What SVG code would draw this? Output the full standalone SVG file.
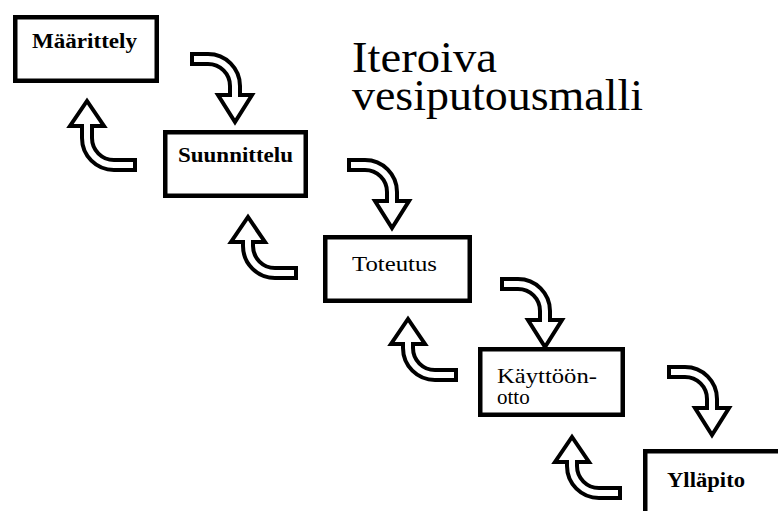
<svg xmlns="http://www.w3.org/2000/svg" xmlns:xlink="http://www.w3.org/1999/xlink" width="778" height="511" viewBox="0 0 778 511">
<style>
.box{fill:#fff;stroke:#000;stroke-width:4.5}
.lbl{font-family:"Liberation Serif","Times New Roman",serif;font-size:21px;fill:#000}
.b{font-weight:bold}
.arr{fill:#fff;stroke:#000;stroke-width:4;stroke-linejoin:miter}
.title{font-family:"Liberation Serif","Times New Roman",serif;font-size:45px;fill:#000}
</style>
<defs>
<path id="down" class="arr" d="M0,0 H16 A32,32 0 0 1 48,32 V41 H60 L43,68 L26,41 H38 V32 A22,22 0 0 0 16,10 H0 Z"/>
<path id="up" class="arr" d="M0,0 H-21 A32,32 0 0 1 -53,-32 V-36 H-65 L-48,-61 L-31,-36 H-43 V-32 A22,22 0 0 0 -21,-10 H0 Z"/>
<path id="upTall" class="arr" d="M0,0 H-21 A32,32 0 0 1 -53,-32 V-44 H-65 L-48,-69 L-31,-44 H-43 V-32 A22,22 0 0 0 -21,-10 H0 Z"/>
</defs>
<rect width="778" height="511" fill="#fff"/>
<g id="title">
<text class="title" x="352" y="72" textLength="145" lengthAdjust="spacingAndGlyphs">Iteroiva</text>
<text class="title" x="352" y="110" textLength="291" lengthAdjust="spacingAndGlyphs">vesiputousmalli</text>
</g>
<g id="connectors">
<use xlink:href="#down" x="192" y="54"/>
<use xlink:href="#down" x="349" y="160"/>
<use xlink:href="#down" x="502" y="279"/>
<use xlink:href="#down" x="669" y="367"/>
<use xlink:href="#upTall" x="135" y="170"/>
<use xlink:href="#up" x="296" y="278"/>
<use xlink:href="#up" x="456" y="380"/>
<use xlink:href="#up" x="620" y="498"/>
</g>
<g id="maarittely">
<rect class="box" x="15.25" y="17.25" width="141.5" height="63.5"/>
<text class="lbl b" x="32" y="48" textLength="105" lengthAdjust="spacingAndGlyphs">Määrittely</text>
</g>
<g id="suunnittelu">
<rect class="box" x="165.25" y="132.25" width="140.5" height="63.5"/>
<text class="lbl b" x="178" y="162" textLength="115" lengthAdjust="spacingAndGlyphs">Suunnittelu</text>
</g>
<g id="toteutus">
<rect class="box" x="325.25" y="237.25" width="144.5" height="63.5"/>
<text class="lbl" x="352" y="271" textLength="85" lengthAdjust="spacingAndGlyphs">Toteutus</text>
</g>
<g id="kayttoonotto">
<rect class="box" x="480.25" y="349.25" width="142.5" height="65.5"/>
<text class="lbl" x="497" y="383" textLength="100" lengthAdjust="spacingAndGlyphs">Käyttöön-</text>
<text class="lbl" x="497" y="404">otto</text>
</g>
<g id="yllapito">
<rect class="box" x="645.25" y="451.25" width="140" height="70"/>
<text class="lbl b" x="667" y="487" textLength="78" lengthAdjust="spacingAndGlyphs">Ylläpito</text>
</g>
</svg>
